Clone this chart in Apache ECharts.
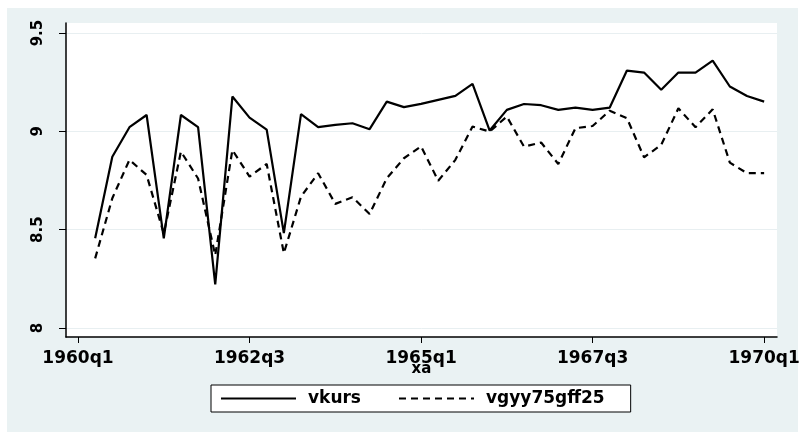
<!DOCTYPE html>
<html>
<head>
<meta charset="utf-8">
<script src="https://cdn.jsdelivr.net/npm/echarts@6/dist/echarts.min.js"></script>
<style>
  html, body { margin: 0; padding: 0; background: #fff; }
  #chart { width: 809px; height: 440px; }
</style>
</head>
<body>
<div id="chart"></div>
<script>
 var chart = echarts.init(document.getElementById('chart'));

 // 季度
 var periods = [
     '1960q2','1960q3','1960q4','1961q1','1961q2','1961q3','1961q4','1962q1',
     '1962q2','1962q3','1962q4','1963q1','1963q2','1963q3','1963q4','1964q1',
     '1964q2','1964q3','1964q4','1965q1','1965q2','1965q3','1965q4','1966q1',
     '1966q2','1966q3','1966q4','1967q1','1967q2','1967q3','1967q4','1968q1',
     '1968q2','1968q3','1968q4','1969q1','1969q2','1969q3','1969q4','1970q1'
 ];
 var vkurs = [
     8.456, 8.871, 9.021, 9.083, 8.456, 9.083, 9.021, 8.222,
     9.177, 9.070, 9.009, 8.482, 9.088, 9.021, 9.033, 9.041,
     9.011, 9.151, 9.123, 9.140, 9.160, 9.180, 9.241, 9.004,
     9.109, 9.139, 9.133, 9.109, 9.121, 9.109, 9.121, 9.309,
     9.299, 9.211, 9.299, 9.299, 9.360, 9.228, 9.180, 9.151
 ];
 var vgyy75gff25 = [
     8.354, 8.660, 8.855, 8.778, 8.480, 8.897, 8.760, 8.370,
     8.905, 8.770, 8.834, 8.380, 8.668, 8.787, 8.631, 8.665,
     8.580, 8.761, 8.863, 8.924, 8.749, 8.855, 9.024, 8.999,
     9.075, 8.922, 8.943, 8.834, 9.016, 9.027, 9.105, 9.067,
     8.868, 8.931, 9.117, 9.021, 9.112, 8.841, 8.787, 8.787
 ];
 var xTickLabels = ['1960q1', '1962q3', '1965q1', '1967q3', '1970q1'];
 var yTickLabels = ['8', '8.5', '9', '9.5'];

 // 季度 -> 序号 (1960q1 = 0)
 function qIndex(p) {
     return (+p.slice(0, 4) - 1960) * 4 + (+p.slice(5)) - 1;
 }
 function pairs(vals) {
     return periods.map(function (p, i) { return [qIndex(p), vals[i]]; });
 }
 var xTicks = xTickLabels.map(qIndex);
 var yTicks = yTickLabels.map(Number);

 var font = 'DejaVu Sans';

 var option = {
     animation: false,
     backgroundColor: '#fff',
     graphic: [{
         type: 'rect', z: -10, silent: true,
         shape: { x: 7, y: 8, width: 791, height: 424 },
         style: { fill: '#eaf2f3' }
     }],
     grid: {
         left: 66, top: 23, right: 32, bottom: 103,
         show: true, backgroundColor: '#fff', borderWidth: 0
     },
     legend: {
         left: 211, top: 385,
         padding: [5, 26, 5, 9],
         itemGap: 37,
         itemWidth: 75, itemHeight: 2,
         itemStyle: { opacity: 0 },
         backgroundColor: '#fff',
         borderColor: '#000', borderWidth: 1, borderRadius: 0,
         textStyle: { fontFamily: font, fontWeight: 'bold', fontSize: 17, color: '#000', padding: [0, 0, 0, 7] },
         data: ['vkurs', 'vgyy75gff25']
     },
     xAxis: {
         type: 'value',
         min: -0.7, max: 40.75,
         name: 'xa', nameLocation: 'middle', nameGap: 25, nameMoveOverlap: false,
         nameTextStyle: { fontFamily: font, fontWeight: 'bold', fontSize: 15, color: '#000' },
         axisLine: { onZero: false, lineStyle: { color: '#000', width: 1.5 } },
         axisTick: { customValues: xTicks, length: 6, lineStyle: { color: '#000' } },
         axisLabel: {
             customValues: xTicks, margin: 13,
             fontFamily: font, fontWeight: 'bold', fontSize: 17, color: '#000',
             formatter: function (v) { return xTickLabels[xTicks.indexOf(v)]; }
         },
         splitLine: { show: false }
     },
     yAxis: {
         type: 'value',
         min: 7.954, max: 9.551,
         axisLine: { show: true, onZero: false, lineStyle: { color: '#000', width: 1.5 } },
         axisTick: { show: true, customValues: yTicks, length: 7, lineStyle: { color: '#000' } },
         axisLabel: {
             customValues: yTicks, rotate: 90, margin: 20,
             fontFamily: font, fontWeight: 'bold', fontSize: 15, color: '#000',
             formatter: function (v) { return yTickLabels[yTicks.indexOf(v)]; }
         },
         splitLine: { show: true, lineStyle: { color: '#e8eff1', width: 1 } }
     },
     series: [
         {
             name: 'vkurs', type: 'line', data: pairs(vkurs),
             symbol: 'none', showSymbol: false,
             itemStyle: { color: '#000' },
             lineStyle: { color: '#000', width: 2.2 }
         },
         {
             name: 'vgyy75gff25', type: 'line', data: pairs(vgyy75gff25),
             symbol: 'none', showSymbol: false,
             itemStyle: { color: '#000' },
             lineStyle: { color: '#000', width: 2.2, type: [7, 5] }
         }
     ]
 };

 chart.setOption(option, true);
 window.addEventListener('resize', function () {
     chart.resize();
 });
</script>
</body>
</html>
